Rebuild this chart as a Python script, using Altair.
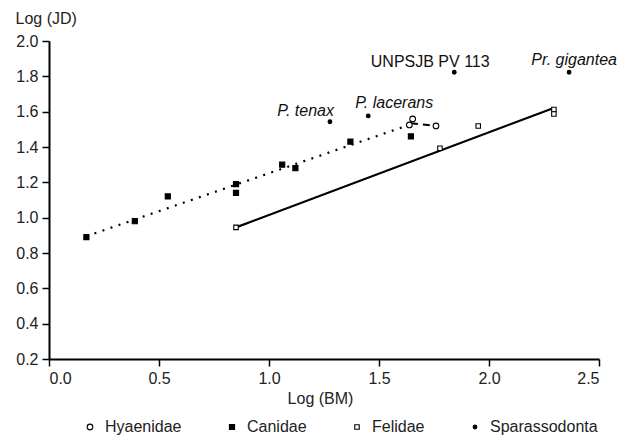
import altair as alt
import pandas as pd

groups = ["Hyaenidae", "Canidae", "Felidae", "Sparassodonta"]

hyaenidae_bm = [1.653, 1.638, 1.759]
hyaenidae_jd = [1.559, 1.525, 1.519]

canidae_bm = [0.17, 0.39, 0.54, 0.85, 0.85, 1.06, 1.12, 1.37, 1.645]
canidae_jd = [0.89, 0.98, 1.12, 1.19, 1.14, 1.30, 1.28, 1.43, 1.46]

felidae_bm = [0.85, 1.777, 1.951, 2.295, 2.295]
felidae_jd = [0.945, 1.393, 1.519, 1.612, 1.587]

sparas_names = ["P. tenax", "P. lacerans", "UNPSJB PV 113", "Pr. gigantea"]
sparas_bm = [1.277, 1.451, 1.842, 2.364]
sparas_jd = [1.543, 1.576, 1.823, 1.823]

# regression line end points
canidae_fit_bm = [0.17, 1.625]
canidae_fit_jd = [0.895, 1.52]
felidae_fit_bm = [0.85, 2.285]
felidae_fit_jd = [0.945, 1.617]
hyaenidae_fit_bm = [1.645, 1.757]
hyaenidae_fit_jd = [1.535, 1.52]

x_ticks = [0.0, 0.5, 1.0, 1.5, 2.0, 2.5]
y_ticks = [0.2, 0.4, 0.6, 0.8, 1.0, 1.2, 1.4, 1.6, 1.8, 2.0]

FONT = "Liberation Sans"

rows = []
for g, xs, ys in [("Hyaenidae", hyaenidae_bm, hyaenidae_jd),
                  ("Canidae", canidae_bm, canidae_jd),
                  ("Felidae", felidae_bm, felidae_jd),
                  ("Sparassodonta", sparas_bm, sparas_jd)]:
    for a, b in zip(xs, ys):
        rows.append({"group": g, "bm": a, "jd": b})
pts = pd.DataFrame(rows)

sp = pd.DataFrame({"name": sparas_names, "bm": sparas_bm, "jd": sparas_jd})

xscale = alt.Scale(domain=[0, 2.5], nice=False, zero=False)
yscale = alt.Scale(domain=[0.2, 2.0], nice=False, zero=False)

xenc = alt.X("bm:Q", scale=xscale,
             axis=alt.Axis(values=x_ticks, tickCount=len(x_ticks), format=".1f",
                           title="Log (BM)", labelOverlap=False,
                           titleX=271, titleY=44, titleAlign="center",
                           titleBaseline="alphabetic"))
yenc = alt.Y("jd:Q", scale=yscale,
             axis=alt.Axis(values=y_ticks, tickCount=len(y_ticks), format=".1f",
                           title="Log (JD)", labelOverlap=False,
                           titleAngle=0, titleX=-34, titleY=-18,
                           titleAlign="left", titleBaseline="alphabetic"))

def fit_line(xs, ys, dash, width):
    d = pd.DataFrame({"bm": xs, "jd": ys})
    props = dict(color="black", strokeWidth=width)
    if dash:
        props["strokeDash"] = dash
    return alt.Chart(d).mark_line(**props).encode(x=xenc, y=yenc)

can_line = fit_line(canidae_fit_bm, canidae_fit_jd, [2, 6.5], 2.2)
fel_line = fit_line(felidae_fit_bm, felidae_fit_jd, None, 2.2)
hya_line = fit_line(hyaenidae_fit_bm, hyaenidae_fit_jd, [7, 5], 2)

points = alt.Chart(pts).mark_point(filled=True, stroke="black", strokeWidth=1.1,
                                   opacity=1).encode(
    x=xenc,
    y=yenc,
    shape=alt.Shape("group:N", scale=alt.Scale(domain=groups,
                    range=["circle", "square", "square", "circle"]),
                    legend=alt.Legend(title=None, orient="none", direction="horizontal",
                                      legendX=33, legendY=378, columnPadding=42,
                                      labelFont=FONT, labelFontSize=16,
                                      labelColor="#222", labelOffset=7,
                                      symbolStrokeColor="black", symbolStrokeWidth=1.1)),
    fill=alt.Fill("group:N", scale=alt.Scale(domain=groups,
                  range=["white", "black", "white", "black"])),
    size=alt.Size("group:N", scale=alt.Scale(domain=groups, range=[32, 14, 24, 22])),
)

def label(name, align, dx, dy, style):
    return alt.Chart(sp[sp["name"] == name]).mark_text(
        align=align, baseline="alphabetic", dx=dx, dy=dy, font=FONT, fontSize=16,
        fontStyle=style, color="#111"
    ).encode(x=xenc, y=yenc, text="name:N")

labels = (label("P. tenax", "right", 4, -6, "italic")
          + label("P. lacerans", "left", -13, -8, "italic")
          + label("UNPSJB PV 113", "center", -24, -5, "normal")
          + label("Pr. gigantea", "center", 5, -7, "italic"))

chart = alt.layer(can_line, fel_line, hya_line, points, labels).properties(
    width=550, height=318,
    padding={"left": 41, "top": 33, "right": 20, "bottom": 78},
    autosize=alt.AutoSizeParams(type="none"),
).configure_view(stroke=None).configure_axis(
    grid=False, domainColor="black", domainWidth=2, tickColor="black",
    tickWidth=1.5, tickSize=7, labelFont=FONT, labelFontSize=16,
    labelColor="#222", labelPadding=4, titleFont=FONT, titleFontSize=16,
    titleFontWeight="normal", titleColor="#222",
).configure_legend(padding=0)

chart.save("out.html", embed_options={"renderer": "svg", "actions": False})
